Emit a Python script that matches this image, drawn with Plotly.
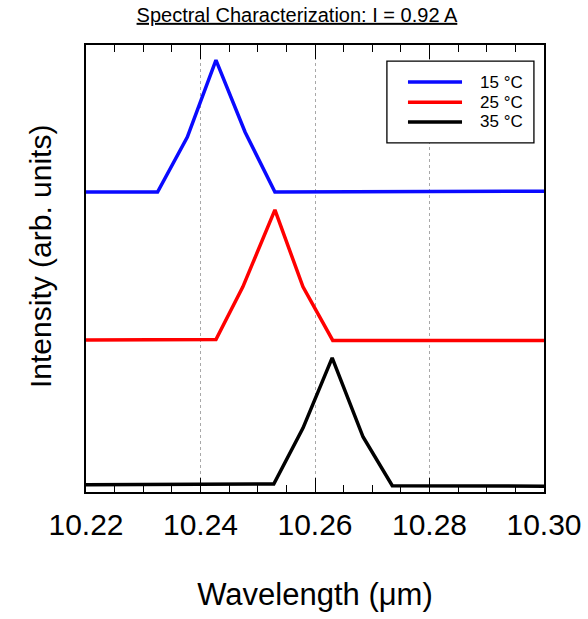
import plotly.graph_objects as go

# Wavelength (um) and offset intensity (arb. units)
wl_15 = [10.220, 10.2325, 10.2377, 10.2427, 10.2478, 10.2530, 10.300]
int_15 = [0.671, 0.671, 0.794, 0.966, 0.805, 0.671, 0.673]

wl_25 = [10.220, 10.2427, 10.2474, 10.2530, 10.2579, 10.2631, 10.300]
int_25 = [0.340, 0.341, 0.459, 0.631, 0.459, 0.339, 0.339]

wl_35 = [10.220, 10.2528, 10.2579, 10.2630, 10.2684, 10.2735, 10.300]
int_35 = [0.016, 0.018, 0.143, 0.300, 0.123, 0.014, 0.013]

series_names = ["15 °C", "25 °C", "35 °C"]
series_colors = ["#0a0aff", "#ff0000", "#000000"]

x_ticks = [10.22, 10.24, 10.26, 10.28, 10.30]
x_ticklabels = ["10.22", "10.24", "10.26", "10.28", "10.30"]

FONT = "Liberation Sans, Arial, sans-serif"

fig = go.Figure()
for wl, inten, name, col in zip([wl_15, wl_25, wl_35], [int_15, int_25, int_35],
                                series_names, series_colors):
    fig.add_trace(go.Scatter(x=wl, y=inten, mode="lines", name=name,
                             line=dict(color=col, width=3.5), showlegend=False))

# empty trace so that the mirrored top axis (with minor ticks) is drawn
fig.add_trace(go.Scatter(x=[], y=[], xaxis="x2", showlegend=False, hoverinfo="skip"))

# legend drawn as a framed box inside the plot area
legend_rows_y = [0.917, 0.872, 0.828]
fig.add_shape(type="rect", xref="x domain", yref="y domain",
              x0=0.657, x1=0.978, y0=0.781, y1=0.964,
              line=dict(color="black", width=1.3), fillcolor="white", layer="above")
for name, col, ry in zip(series_names, series_colors, legend_rows_y):
    fig.add_shape(type="line", xref="x domain", yref="y domain",
                  x0=0.703, x1=0.821, y0=ry, y1=ry,
                  line=dict(color=col, width=3.5), layer="above")
    fig.add_annotation(xref="x domain", yref="y domain", x=0.958, y=ry,
                       text=name, showarrow=False, xanchor="right", yanchor="middle",
                       font=dict(size=17, family=FONT, color="black"))

# y-axis title (placed slightly above the plot centre, as in the original)
fig.add_annotation(xref="paper", yref="paper", x=-0.098, y=0.526,
                   text="Intensity (arb. units)", textangle=-90, showarrow=False,
                   xanchor="center", yanchor="middle",
                   font=dict(size=30, family=FONT, color="black"))

fig.update_layout(
    width=588, height=619,
    margin=dict(l=86, r=44, t=45, b=127, autoexpand=False),
    paper_bgcolor="white", plot_bgcolor="white",
    font=dict(family=FONT, color="black"),
    title=dict(text="<u>Spectral Characterization: I = 0.92 A</u>",
               x=0.505, xanchor="center", y=0.976, yanchor="middle",
               font=dict(size=20, family=FONT, color="black")),
    showlegend=False,
)

common_x = dict(
    range=[10.22, 10.30], tickvals=x_ticks,
    ticks="inside", ticklen=14, tickwidth=1.3, tickcolor="black",
    showline=True, linecolor="black", linewidth=1.6,
    zeroline=False, automargin=False,
    minor=dict(dtick=0.005, tick0=10.22, ticks="inside", ticklen=7,
               tickwidth=1.3, tickcolor="black", showgrid=False),
)

fig.update_layout(
    xaxis=dict(**common_x, ticktext=x_ticklabels, ticklabelstandoff=5,
               showgrid=True, gridcolor="#a8a8a8", gridwidth=1, griddash="3px,3px",
               tickfont=dict(size=30, family=FONT),
               title=dict(text="Wavelength (μm)", font=dict(size=31, family=FONT),
                          standoff=44)),
    xaxis2=dict(**common_x, overlaying="x", side="top", anchor="y",
                showticklabels=False, showgrid=False),
    yaxis=dict(range=[0, 1], showticklabels=False, ticks="", showgrid=False,
               showline=True, linecolor="black", linewidth=1.6, mirror=True,
               zeroline=False, automargin=False),
)

fig.write_html("out.html", config={"displayModeBar": False},
               post_script="document.body.style.margin='0px';document.body.style.overflow='hidden';")
